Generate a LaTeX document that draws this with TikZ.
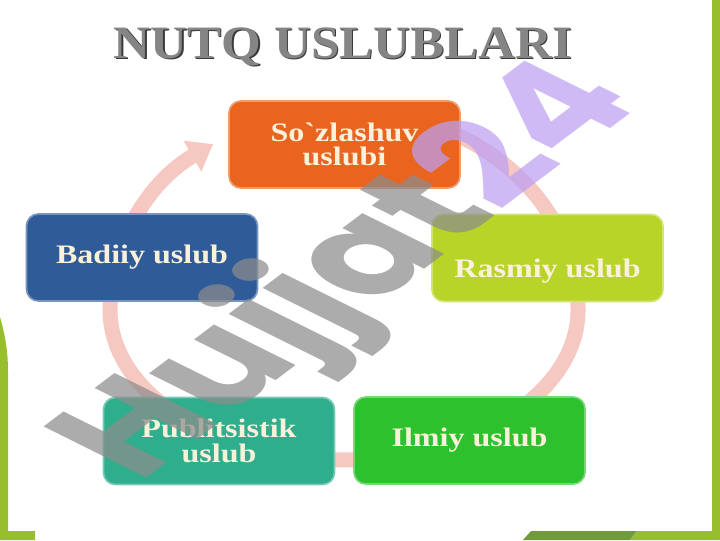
\documentclass[tikz,border=0pt]{standalone}
\usepackage{fontspec}
\setmainfont{Liberation Serif}
\newfontfamily\wmfont{Poppins}
\usepackage{graphicx}
\usetikzlibrary{arrows.meta}

\definecolor{sozorange}{HTML}{E8641F}
\definecolor{badblue}{HTML}{2F5C99}
\definecolor{rasgreen}{HTML}{B8D428}
\definecolor{pubteal}{HTML}{2FAE8E}
\definecolor{ilmgreen}{HTML}{2DC12D}
\definecolor{boxtext}{HTML}{FBF1DA}
\definecolor{ringpink}{HTML}{F5C8C1}
\definecolor{titlegray}{HTML}{858585}
\definecolor{titledark}{HTML}{3A3A3A}
\definecolor{wmgray}{HTML}{8C8C8C}
\definecolor{wmlav}{HTML}{BC9FF3}
\definecolor{leafgreen}{HTML}{97BE2C}
\definecolor{olivegreen}{HTML}{6F9A3E}

\newcommand{\wide}[1]{\scalebox{1.2}[1]{#1}}

\begin{document}
\begin{tikzpicture}[x=0.025cm,y=-0.025cm,
  box/.style={rectangle,rounded corners=0.3cm,minimum width=5.775cm,minimum height=2.175cm,line width=1.2pt,text=boxtext,font=\fontsize{19}{17.5}\selectfont\bfseries,align=center,inner sep=0pt},
  ring/.style={line width=0.375cm,draw=ringpink,-{Triangle[width=0.85cm,length=0.6cm]}}]
\tikzstyle{title} = [font=\fontsize{33}{33}\selectfont\bfseries,anchor=base,inner sep=0pt]
\tikzstyle{watermark} = [font=\wmfont\bfseries\fontsize{104}{104}\selectfont,text opacity=0.72,rotate=37,xslant=-0.5,transform shape]

\useasboundingbox (0,0) rectangle (720,540);

% slide corners
\fill[leafgreen] (712,0) rectangle (720,540);
\fill[leafgreen] (0,317) .. controls (5,335) and (8,350) .. (8,372) -- (8,531) -- (35,531) -- (35,540) -- (0,540) -- cycle;
\fill[olivegreen] (523,540) -- (531,531) -- (637,531) -- (630,540) -- cycle;
\fill[leafgreen] (630,540) -- (637,531) -- (720,531) -- (720,540) -- cycle;

% title
\node[title,text=titledark] (titleshadow) at (344.3,59.3) {\scalebox{1.1}[1]{NUTQ USLUBLARI}};
\node[title,text=titlegray] (title) at (343,58) {\scalebox{1.1}[1]{NUTQ USLUBLARI}};

% ring
\draw[ring] (303.4,113) arc[start angle=260,end angle=360,x radius=234,y radius=200]
  arc[start angle=0,end angle=180,x radius=234,y radius=150]
  arc[start angle=180,end angle=236,x radius=234,y radius=200];

% boxes
\node[box,fill=sozorange,draw=sozorange!65!white] (sozlashuv) at (344.5,144.5) {\wide{So\textasciigrave zlashuv}\\\wide{uslubi}};
\node[box,fill=rasgreen,draw=rasgreen!65!white] (rasmiy) at (547.5,258) {\raisebox{-0.33cm}[\height][\depth]{\wide{Rasmiy uslub}}};
\node[box,fill=ilmgreen,draw=ilmgreen!65!white] (ilmiy) at (469.5,440.5) {\wide{Ilmiy uslub}};
\node[box,fill=pubteal,draw=pubteal!65!white] (publitsistik) at (219,441) {\wide{Publitsistik}\\\wide{uslub}};
\node[box,fill=badblue,draw=badblue!65!white] (badiiy) at (142,257.5) {\wide{Badiiy uslub}};

% watermark
\node[watermark] (hujjat) at (353,274) {\color{wmgray}Hujjat\color{wmlav}24};

\end{tikzpicture}
\end{document}
